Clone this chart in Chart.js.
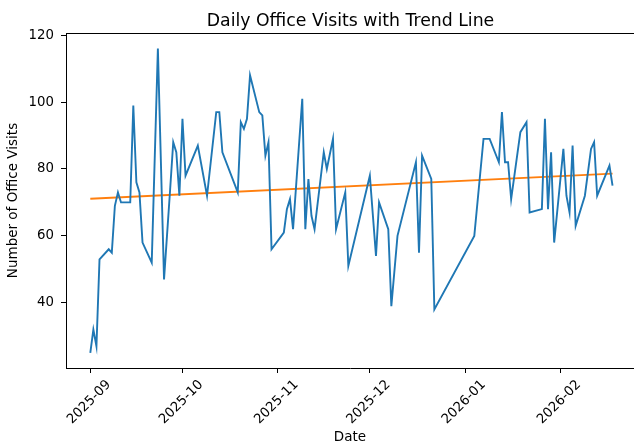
<!DOCTYPE html>
<html><head><meta charset="utf-8">
<script src="https://cdn.jsdelivr.net/npm/chart.js@4.4.1/dist/chart.umd.min.js"></script>
<style>html,body{margin:0;padding:0;background:#fff;}#wrap{width:634px;height:444px;}</style>
</head><body><div id="wrap"><canvas id="c" width="634" height="444"></canvas></div>
<script>
const dates = ['2025-09-01','2025-09-02','2025-09-03','2025-09-04','2025-09-07','2025-09-08','2025-09-09','2025-09-10','2025-09-11','2025-09-14',
'2025-09-15','2025-09-16','2025-09-17','2025-09-18','2025-09-21','2025-09-23','2025-09-25','2025-09-27','2025-09-28','2025-09-29',
'2025-09-30','2025-10-01','2025-10-02','2025-10-06','2025-10-09','2025-10-12','2025-10-13','2025-10-14','2025-10-19','2025-10-20',
'2025-10-21','2025-10-22','2025-10-23','2025-10-26','2025-10-27','2025-10-28','2025-10-29','2025-10-30','2025-11-03','2025-11-04',
'2025-11-05','2025-11-06','2025-11-09','2025-11-10','2025-11-11','2025-11-12','2025-11-13','2025-11-16','2025-11-17','2025-11-19',
'2025-11-20','2025-11-23','2025-11-24','2025-12-01','2025-12-03','2025-12-04','2025-12-07','2025-12-08','2025-12-10','2025-12-16',
'2025-12-17','2025-12-18','2025-12-21','2025-12-22','2026-01-04','2026-01-07','2026-01-09','2026-01-12','2026-01-13','2026-01-14',
'2026-01-15','2026-01-16','2026-01-19','2026-01-21','2026-01-22','2026-01-26','2026-01-27','2026-01-28','2026-01-29','2026-01-30',
'2026-02-02','2026-02-03','2026-02-04','2026-02-05','2026-02-06','2026-02-09','2026-02-11','2026-02-12','2026-02-13','2026-02-17',
'2026-02-18'];
const visits = [25,32,27,53,56,55,69,73,70,70,
99,76,73,58,52,116,47,74,88,85,
72,95,78,87,72,97,97,85,73,94,
92,95,108,97,96,84,88,56,61,68,
71,62,101,62,77,66,62,85,80,89,
62,73,51,78,54,70,62,39,60,82,
55,84,77,38,60,89,89,82,97,82,
82,71,91,94,67,68,95,68,85,58,
86,72,67,87,63,72,86,88,72,81,
75];
const trendDates = ['2025-09-01','2026-02-18'];
const trendValues = [71.1, 78.6];
const xTickDates = ['2025-09-01','2025-10-01','2025-11-01','2025-12-01','2026-01-01','2026-02-01'];
const xTickLabels = ['2025-09','2025-10','2025-11','2025-12','2026-01','2026-02'];
const yTicks = [40,60,80,100,120];
const chartTitle = 'Daily Office Visits with Trend Line';

const ORIGIN = Date.UTC(2025,8,1);
function dayOf(s){ const p=s.split('-').map(Number); return (Date.UTC(p[0],p[1]-1,p[2])-ORIGIN)/86400000; }

const FONT = "'DejaVu Sans', sans-serif";
const framePlugin = {
  id:'frame',
  afterDraw(chart){
    const a=chart.chartArea, ctx=chart.ctx;
    ctx.save(); ctx.strokeStyle='#000'; ctx.lineWidth=1;
    ctx.beginPath(); ctx.moveTo(a.left, a.top+0.5); ctx.lineTo(a.right, a.top+0.5); ctx.stroke();
    ctx.fillStyle='#000'; ctx.font = "17.3px " + FONT; ctx.textAlign='center'; ctx.textBaseline='alphabetic';
    ctx.fillText(chartTitle, 350.5, 25.5);
    ctx.restore();
  }
};

new Chart(document.getElementById('c'), {
  type:'line',
  data:{
    datasets:[
      {label:'Office Visits', data: dates.map((d,i)=>({x:dayOf(d), y:visits[i]})), borderColor:'#1f77b4', borderWidth:1.9, pointRadius:0, tension:0, fill:false},
      {label:'Trend Line', data: trendDates.map((d,i)=>({x:dayOf(d), y:trendValues[i]})), borderColor:'#ff7f0e', borderWidth:1.9, pointRadius:0, tension:0, fill:false}
    ]
  },
  options:{
    responsive:false, animation:false, devicePixelRatio:1,
    layout:{padding:{left:0,right:0,top:33,bottom:0}, autoPadding:false},
    plugins:{
      legend:{display:false}, tooltip:{enabled:false}, title:{display:false}
    },
    scales:{
      x:{type:'linear', min:-7.91, max:176.99,
        afterBuildTicks(s){ s.ticks = xTickDates.map(d=>({value:dayOf(d)})); },
        afterFit(s){ s.height = 76; },
        ticks:{autoSkip:false, minRotation:45, maxRotation:45, labelOffset:18.5, padding:4, color:'#000', font:{family:FONT, size:13.3},
          callback(v){ const i=xTickDates.findIndex(d=>dayOf(d)===v); return i>=0?xTickLabels[i]:''; }},
        grid:{drawOnChartArea:false, tickLength:5, tickColor:'#000'},
        border:{color:'#000', width:1},
        title:{display:true, text:'Date', color:'#000', font:{family:FONT, size:13.5}, padding:{top:0,bottom:-2}}
      },
      y:{type:'linear', min:20.5, max:120.65,
        afterBuildTicks(s){ s.ticks = yTicks.map(v=>({value:v})); },
        afterFit(s){ s.width = 66; },
        ticks:{padding:7, color:'#000', font:{family:FONT, size:13.3}},
        grid:{drawOnChartArea:false, tickLength:5, tickColor:'#000'},
        border:{color:'#000', width:1},
        title:{display:true, text:'Number of Office Visits', color:'#000', font:{family:FONT, size:13.5}, padding:{top:5,bottom:0}}
      }
    }
  },
  plugins:[framePlugin]
});
</script></body></html>
